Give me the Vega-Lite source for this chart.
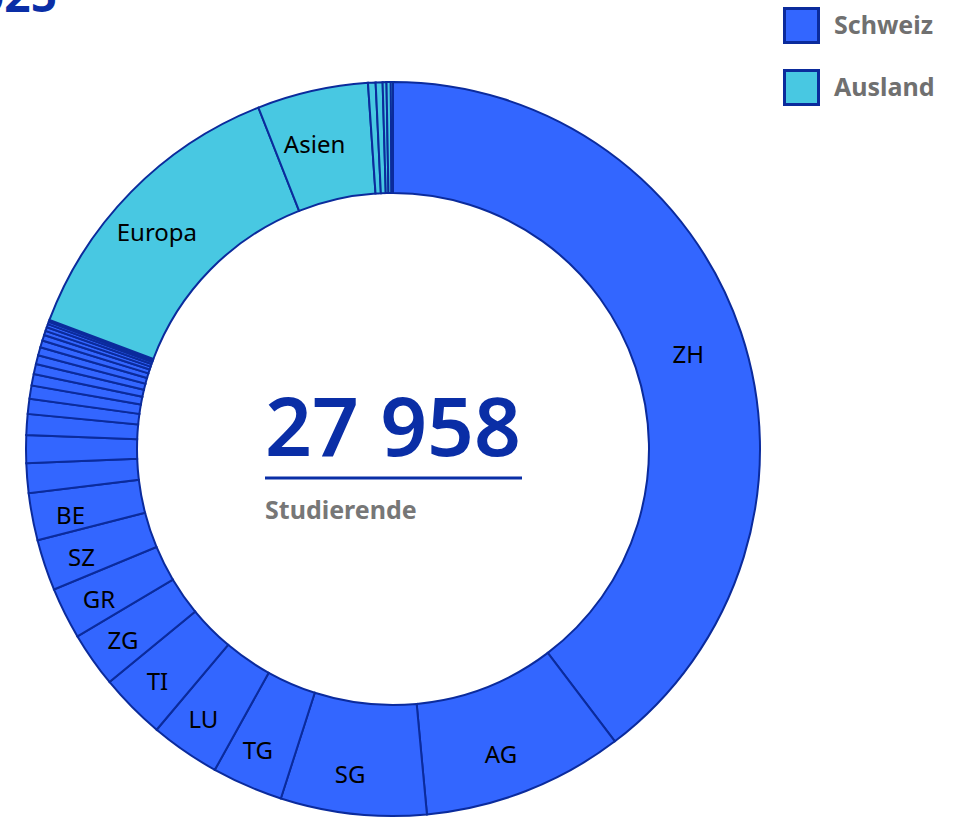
{
  "$schema": "https://vega.github.io/schema/vega-lite/v6.json",
  "width": 786,
  "height": 898,
  "autosize": "none",
  "padding": {"left": 0, "top": 0, "right": 167, "bottom": 0},
  "background": "white",
  "title": {
    "text": "Herkunft der Studierenden 2025",
    "anchor": "start",
    "align": "right",
    "frame": "group",
    "dx": 57,
    "dy": 26,
    "fontSize": 46,
    "fontWeight": "bold",
    "font": "Noto Sans",
    "color": "#0a2ea6"
  },
  "config": {
    "view": {"stroke": null},
    "locale": {"number": {"decimal": ".", "thousands": " ", "grouping": [3], "currency": ["CHF ", ""]}}
  },
  "data": {
    "values": [
      {"idx": 1, "region": "ZH", "gruppe": "Schweiz", "n": 11090, "label": "ZH"},
      {"idx": 2, "region": "AG", "gruppe": "Schweiz", "n": 2477, "label": "AG"},
      {"idx": 3, "region": "SG", "gruppe": "Schweiz", "n": 1794, "label": "SG"},
      {"idx": 4, "region": "TG", "gruppe": "Schweiz", "n": 874, "label": "TG"},
      {"idx": 5, "region": "LU", "gruppe": "Schweiz", "n": 858, "label": "LU"},
      {"idx": 6, "region": "TI", "gruppe": "Schweiz", "n": 815, "label": "TI"},
      {"idx": 7, "region": "ZG", "gruppe": "Schweiz", "n": 676, "label": "ZG"},
      {"idx": 8, "region": "GR", "gruppe": "Schweiz", "n": 637, "label": "GR"},
      {"idx": 9, "region": "SZ", "gruppe": "Schweiz", "n": 629, "label": "SZ"},
      {"idx": 10, "region": "BE", "gruppe": "Schweiz", "n": 582, "label": "BE"},
      {"idx": 11, "region": "SO", "gruppe": "Schweiz", "n": 365, "label": ""},
      {"idx": 12, "region": "BL", "gruppe": "Schweiz", "n": 342, "label": ""},
      {"idx": 13, "region": "SH", "gruppe": "Schweiz", "n": 256, "label": ""},
      {"idx": 14, "region": "AR", "gruppe": "Schweiz", "n": 186, "label": ""},
      {"idx": 15, "region": "VS", "gruppe": "Schweiz", "n": 163, "label": ""},
      {"idx": 16, "region": "BS", "gruppe": "Schweiz", "n": 140, "label": ""},
      {"idx": 17, "region": "FR", "gruppe": "Schweiz", "n": 124, "label": ""},
      {"idx": 18, "region": "GL", "gruppe": "Schweiz", "n": 109, "label": ""},
      {"idx": 19, "region": "NW", "gruppe": "Schweiz", "n": 101, "label": ""},
      {"idx": 20, "region": "OW", "gruppe": "Schweiz", "n": 85, "label": ""},
      {"idx": 21, "region": "VD", "gruppe": "Schweiz", "n": 70, "label": ""},
      {"idx": 22, "region": "GE", "gruppe": "Schweiz", "n": 54, "label": ""},
      {"idx": 23, "region": "UR", "gruppe": "Schweiz", "n": 47, "label": ""},
      {"idx": 24, "region": "AI", "gruppe": "Schweiz", "n": 39, "label": ""},
      {"idx": 25, "region": "NE", "gruppe": "Schweiz", "n": 31, "label": ""},
      {"idx": 26, "region": "JU", "gruppe": "Schweiz", "n": 23, "label": ""},
      {"idx": 27, "region": "Europa", "gruppe": "Ausland", "n": 3720, "label": "Europa"},
      {"idx": 28, "region": "Asien", "gruppe": "Ausland", "n": 1367, "label": "Asien"},
      {"idx": 29, "region": "Amerika", "gruppe": "Ausland", "n": 93, "label": ""},
      {"idx": 30, "region": "Afrika", "gruppe": "Ausland", "n": 85, "label": ""},
      {"idx": 31, "region": "Ozeanien", "gruppe": "Ausland", "n": 47, "label": ""},
      {"idx": 32, "region": "Unbekannt", "gruppe": "Ausland", "n": 52, "label": ""},
      {"idx": 33, "region": "Staatenlos", "gruppe": "Ausland", "n": 27, "label": ""}
    ]
  },
  "layer": [
    {
      "mark": {"type": "arc", "innerRadius": 256, "outerRadius": 367, "stroke": "#0b2b9c", "strokeWidth": 2},
      "encoding": {
        "theta": {"field": "n", "type": "quantitative", "stack": true},
        "order": {"field": "idx", "type": "quantitative"},
        "color": {
          "field": "gruppe",
          "type": "nominal",
          "scale": {"domain": ["Schweiz", "Ausland"], "range": ["#3366ff", "#48c8e2"]},
          "legend": {
            "orient": "none",
            "legendX": 783,
            "legendY": 7,
            "title": null,
            "symbolType": "square",
            "symbolSize": 1156,
            "symbolStrokeWidth": 3,
            "symbolStrokeColor": "#0b2b9c",
            "labelFontSize": 25,
            "labelFont": "Noto Sans",
            "labelFontWeight": "bold",
            "labelColor": "#707070",
            "labelOffset": 14,
            "rowPadding": 15
          }
        }
      }
    },
    {
      "mark": {"type": "text", "radius": 320, "fontSize": 24, "font": "Noto Sans", "color": "#000000", "dx": -8, "dy": 9},
      "encoding": {
        "theta": {"field": "n", "type": "quantitative", "stack": true},
        "order": {"field": "idx", "type": "quantitative"},
        "text": {"field": "label", "type": "nominal"}
      }
    },
    {
      "transform": [{"aggregate": [{"op": "sum", "field": "n", "as": "total"}]}],
      "mark": {"type": "text", "fontSize": 82, "fontWeight": 600, "font": "Noto Sans", "color": "#0a2ea6", "align": "center", "baseline": "alphabetic", "dy": 7},
      "encoding": {
        "text": {"field": "total", "type": "quantitative", "format": ",d"}
      }
    },
    {
      "data": {"values": [{"t": "Studierende"}]},
      "mark": {"type": "text", "fontSize": 25, "fontWeight": "bold", "font": "Noto Sans", "color": "#777777", "align": "left", "baseline": "alphabetic", "dx": -128, "dy": 70},
      "encoding": {
        "text": {"field": "t", "type": "nominal"}
      }
    },
    {
      "data": {"values": [{"t": "underline"}]},
      "mark": {"type": "rule", "color": "#0a2ea6", "strokeWidth": 3},
      "encoding": {
        "x": {"value": {"expr": "width/2-128"}},
        "x2": {"value": {"expr": "width/2+129"}},
        "y": {"value": {"expr": "height/2+29"}}
      }
    }
  ]
}
